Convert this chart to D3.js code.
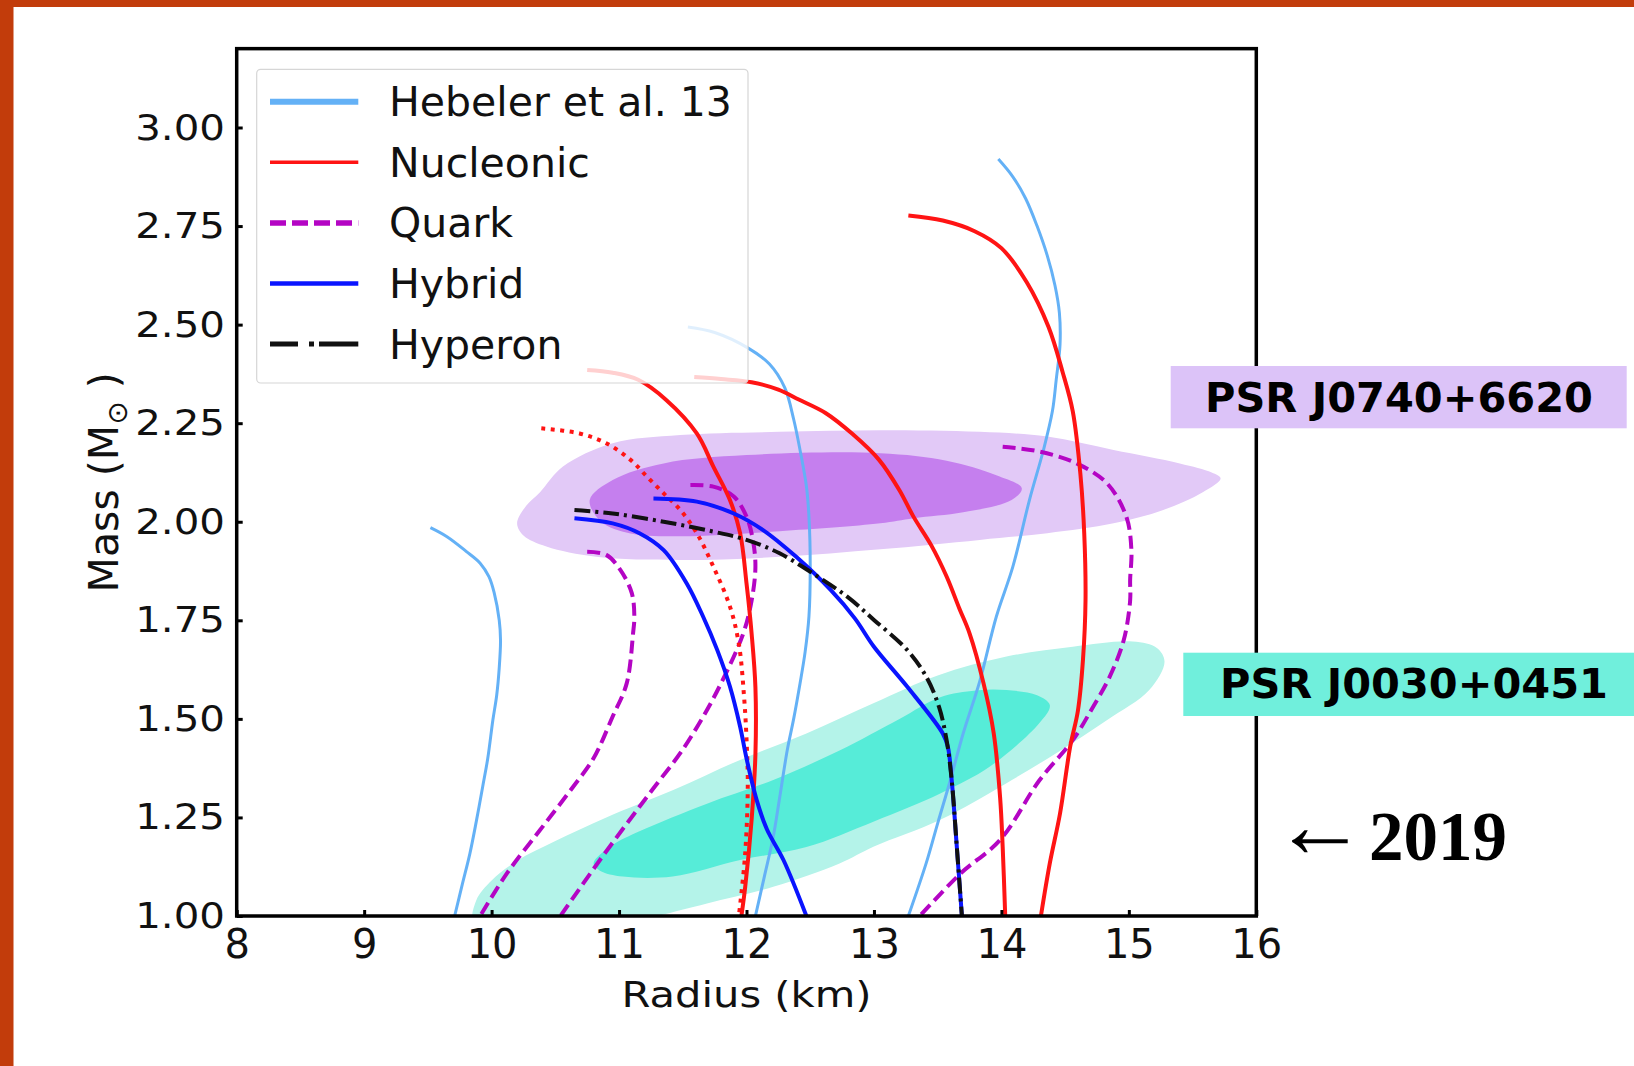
<!DOCTYPE html>
<html>
<head>
<meta charset="utf-8">
<script src="https://cdn.jsdelivr.net/npm/d3@7"></script>
<style>
  body { margin: 0; background: #fff; }
  svg { display: block; }
</style>
</head>
<body>
<svg id="chart" width="1634" height="1066"></svg>
<script>
// ---- Mass–radius relations, points are [radius (km), mass (M_sun)] ----
const hebelerSoft = [[9.52,1.985],[9.65,1.962],[9.80,1.925],[9.91,1.895],[9.98,1.86],[10.02,1.82],[10.06,1.75],[10.07,1.70],[10.06,1.63],[10.04,1.56],[10.01,1.497],[9.97,1.40],[9.93,1.328],[9.88,1.24],[9.83,1.159],[9.77,1.08],[9.71,1.0]];
const hebelerMid = [[11.54,2.494],[11.75,2.48],[12.01,2.441],[12.18,2.40],[12.30,2.34],[12.37,2.26],[12.42,2.182],[12.47,2.09],[12.49,2.013],[12.50,1.886],[12.49,1.76],[12.46,1.67],[12.42,1.59],[12.37,1.50],[12.32,1.421],[12.26,1.30],[12.21,1.201],[12.14,1.10],[12.07,1.0]];
const hebelerStiff = [[13.976,2.92],[14.09,2.875],[14.19,2.82],[14.28,2.75],[14.36,2.675],[14.42,2.60],[14.455,2.53],[14.46,2.45],[14.43,2.36],[14.40,2.28],[14.33,2.182],[14.22,2.055],[14.09,1.886],[13.96,1.759],[13.83,1.595],[13.70,1.463],[13.60,1.345],[13.5,1.235],[13.41,1.134],[13.27,1.0]];

const nucleonicA = [[10.75,2.385],[10.95,2.378],[11.15,2.36],[11.37,2.309],[11.61,2.224],[11.74,2.14],[11.87,2.055],[11.95,1.971],[12.0,1.844],[12.04,1.717],[12.07,1.58],[12.07,1.41],[12.04,1.244],[11.99,1.074],[11.96,1.0]];
const nucleonicDotted = [[10.39,2.237],[10.69,2.224],[10.90,2.199],[11.09,2.157],[11.22,2.114],[11.35,2.072],[11.48,2.03],[11.61,1.971],[11.74,1.886],[11.87,1.785],[11.94,1.69],[11.98,1.56],[12.0,1.45],[12.01,1.33],[11.99,1.16],[11.94,1.0]];
const nucleonicB = [[11.59,2.367],[11.8,2.362],[12.04,2.354],[12.25,2.335],[12.41,2.31],[12.62,2.276],[12.83,2.223],[13.04,2.157],[13.2,2.08],[13.31,2.013],[13.45,1.94],[13.57,1.861],[13.67,1.78],[13.75,1.717],[13.86,1.59],[13.94,1.463],[13.99,1.30],[14.01,1.176],[14.03,1.0]];
const nucleonicC = [[13.27,2.777],[13.54,2.764],[13.79,2.737],[14.0,2.694],[14.2,2.607],[14.37,2.494],[14.48,2.38],[14.56,2.28],[14.62,2.12],[14.65,1.97],[14.66,1.80],[14.64,1.65],[14.60,1.52],[14.54,1.43],[14.46,1.26],[14.38,1.134],[14.31,1.0]];

const quarkA = [[10.75,1.924],[10.90,1.916],[11.01,1.878],[11.10,1.819],[11.12,1.76],[11.11,1.717],[11.06,1.59],[10.95,1.506],[10.80,1.40],[10.64,1.328],[10.38,1.218],[10.12,1.108],[9.91,1.0]];
const quarkB = [[11.56,2.093],[11.74,2.089],[11.90,2.064],[12.0,2.013],[12.05,1.954],[12.07,1.886],[12.04,1.80],[11.975,1.717],[11.80,1.59],[11.65,1.50],[11.48,1.413],[11.32,1.345],[11.16,1.277],[10.85,1.142],[10.54,1.0]];
const quarkC = [[14.01,2.19],[14.30,2.178],[14.59,2.148],[14.83,2.097],[14.98,2.013],[15.02,1.928],[15.01,1.852],[15.01,1.80],[14.96,1.70],[14.85,1.607],[14.72,1.531],[14.56,1.446],[14.30,1.345],[13.99,1.193],[13.68,1.108],[13.36,1.0]];

const hybridA = [[10.65,2.009],[10.95,1.996],[11.16,1.971],[11.35,1.928],[11.53,1.844],[11.66,1.759],[11.77,1.675],[11.87,1.582],[11.95,1.48],[12.0,1.40],[12.08,1.294],[12.16,1.22],[12.29,1.142],[12.47,1.0]];
const hybridB = [[11.27,2.059],[11.61,2.051],[11.90,2.021],[12.13,1.979],[12.39,1.911],[12.66,1.827],[12.85,1.755],[13.0,1.683],[13.26,1.582],[13.54,1.463],[13.58,1.429],[13.61,1.345],[13.65,1.176],[13.69,1.0]];

const hyperon = [[10.65,2.03],[10.95,2.021],[11.35,2.0],[11.74,1.975],[12.0,1.954],[12.26,1.92],[12.52,1.869],[12.79,1.81],[13.0,1.751],[13.26,1.675],[13.41,1.607],[13.51,1.531],[13.57,1.446],[13.61,1.345],[13.65,1.176],[13.69,1.0]];

// ---- Credible regions (68% inner / 95% outer) ----
const j0740Outer = [[10.20,1.996],[10.27,2.04],[10.38,2.075],[10.56,2.14],[10.95,2.199],[11.48,2.22],[12.26,2.228],[13.05,2.232],[13.83,2.228],[14.36,2.216],[14.88,2.182],[15.40,2.148],[15.65,2.125],[15.72,2.110],[15.58,2.075],[15.27,2.03],[14.88,1.996],[14.36,1.971],[13.83,1.954],[13.05,1.93],[12.26,1.911],[11.48,1.903],[10.82,1.911],[10.43,1.937],[10.25,1.965]];
const j0740Inner = [[10.77,2.055],[10.95,2.106],[11.35,2.148],[12.0,2.169],[13.05,2.174],[13.57,2.155],[13.96,2.118],[14.16,2.085],[14.08,2.055],[13.70,2.024],[13.31,2.009],[13.05,1.996],[12.26,1.976],[11.48,1.963],[11.09,1.97],[10.86,2.0]];
const j0030Outer = [[9.86,0.98],[9.88,1.04],[10.0,1.09],[10.2,1.14],[10.5,1.19],[10.9,1.25],[11.43,1.32],[11.95,1.396],[12.47,1.463],[13.0,1.54],[13.5,1.61],[14.04,1.658],[14.56,1.683],[15.03,1.696],[15.22,1.68],[15.28,1.645],[15.16,1.573],[14.83,1.497],[14.43,1.413],[14.04,1.337],[13.52,1.244],[13.0,1.176],[12.73,1.133],[12.21,1.074],[11.69,1.032],[11.3,1.0],[10.8,0.96],[10.2,0.95]];
const j0030Inner = [[10.80,1.134],[10.95,1.18],[11.16,1.215],[11.69,1.285],[12.21,1.345],[12.73,1.42],[13.2,1.50],[13.52,1.555],[13.8,1.572],[14.04,1.573],[14.28,1.56],[14.38,1.535],[14.3,1.49],[13.91,1.379],[13.52,1.311],[13.0,1.24],[12.47,1.175],[11.95,1.142],[11.42,1.10],[11.03,1.10],[10.85,1.115]];

// ---- Axis ticks and labels ----
const radiusTicks = [8, 9, 10, 11, 12, 13, 14, 15, 16];
const massTicks = [1.00, 1.25, 1.50, 1.75, 2.00, 2.25, 2.50, 2.75, 3.00];
const legendLabels = ["Hebeler et al. 13", "Nucleonic", "Quark", "Hybrid", "Hyperon"];
const pulsarNames = ["PSR J0740+6620", "PSR J0030+0451"];
const yearNote = "2019";

// ---- Styling ----
const C = {
  hebeler: "#64b1f6",
  nucleonic: "#ff1414",
  quark: "#b405c4",
  hybrid: "#0a14ff",
  hyperon: "#111111",
  purpleOuter: "#e2c9f7",
  purpleInner: "#c57fee",
  tealOuter: "#b4f3e9",
  tealInner: "#56ecd8",
  purpleBox: "#dcc3f8",
  tealBox: "#70efdc",
  border: "#c23c0b"
};

const svg = d3.select("#chart");
svg.append("rect").attr("width", 1634).attr("height", 1066).attr("fill", "#fff");
// page edge band
svg.append("rect").attr("x", 0).attr("y", 0).attr("width", 13.5).attr("height", 1066).attr("fill", C.border);
svg.append("rect").attr("x", 0).attr("y", 0).attr("width", 1634).attr("height", 7).attr("fill", C.border);

const x = d3.scaleLinear().domain([8, 16]).range([236.7, 1256.3]);
const y = d3.scaleLinear().domain([1, 3.2]).range([916, 48.65]);
const [x0, x1] = x.range();
const [yb, yt] = y.range();

svg.append("defs").append("clipPath").attr("id", "plotClip")
  .append("rect").attr("x", x0).attr("y", yt).attr("width", x1 - x0).attr("height", yb - yt);

const plot = svg.append("g").attr("clip-path", "url(#plotClip)");

// credible regions
const area = d3.line().x(d => x(d[0])).y(d => y(d[1])).curve(d3.curveCatmullRomClosed.alpha(0.5));
[[j0740Outer, C.purpleOuter], [j0740Inner, C.purpleInner], [j0030Outer, C.tealOuter], [j0030Inner, C.tealInner]]
  .forEach(([pts, fill]) => plot.append("path").attr("d", area(pts)).attr("fill", fill));

// curves
const line = d3.line().x(d => x(d[0])).y(d => y(d[1])).curve(d3.curveCatmullRom.alpha(0.5));
const curves = [
  { pts: hebelerSoft, color: C.hebeler, w: 3 },
  { pts: hebelerMid, color: C.hebeler, w: 3 },
  { pts: hebelerStiff, color: C.hebeler, w: 3 },
  { pts: quarkA, color: C.quark, w: 4, dash: "13,6" },
  { pts: quarkB, color: C.quark, w: 4, dash: "13,6" },
  { pts: quarkC, color: C.quark, w: 4, dash: "13,6" },
  { pts: nucleonicDotted, color: C.nucleonic, w: 4, dash: "4,5.5" },
  { pts: nucleonicA, color: C.nucleonic, w: 4 },
  { pts: nucleonicB, color: C.nucleonic, w: 4 },
  { pts: nucleonicC, color: C.nucleonic, w: 4 },
  { pts: hybridA, color: C.hybrid, w: 4 },
  { pts: hybridB, color: C.hybrid, w: 4 },
  { pts: hyperon, color: C.hyperon, w: 4, dash: "16,5,3,5" }
];
curves.forEach(c => {
  plot.append("path").attr("d", line(c.pts)).attr("fill", "none")
    .attr("stroke", c.color).attr("stroke-width", c.w)
    .attr("stroke-dasharray", c.dash || null);
});

// axes (ticks point inward)
const yAxis = d3.axisLeft(y).tickValues(massTicks).tickFormat(d3.format(".2f"))
  .tickSizeInner(-6).tickSizeOuter(0).tickPadding(10.5);
const gy = svg.append("g").attr("transform", `translate(${x0},0)`).call(yAxis);
gy.select(".domain").remove();
gy.selectAll(".tick line").attr("stroke", "#000").attr("stroke-width", 3);
gy.selectAll(".tick text").attr("font-family", "DejaVu Sans").attr("font-size", 36)
  .attr("fill", "#111").attr("transform", "scale(1.12,1)");

const xAxis = d3.axisBottom(x).tickValues(radiusTicks).tickFormat(d3.format("d"))
  .tickSizeInner(-6).tickSizeOuter(0).tickPadding(14);
const gx = svg.append("g").attr("transform", `translate(0,${yb})`).call(xAxis);
gx.select(".domain").remove();
gx.selectAll(".tick line").attr("stroke", "#000").attr("stroke-width", 3);
gx.selectAll(".tick text").attr("font-family", "DejaVu Sans").attr("font-size", 40).attr("fill", "#111");

// frame
svg.append("rect").attr("x", x0).attr("y", yt).attr("width", x1 - x0).attr("height", yb - yt)
  .attr("fill", "none").attr("stroke", "#000").attr("stroke-width", 3.5);

// axis titles
svg.append("text").attr("transform", `translate(${(x0 + x1) / 2},1006.7) scale(1.19,1)`)
  .attr("text-anchor", "middle").attr("font-family", "DejaVu Sans").attr("font-size", 35)
  .attr("fill", "#111").text("Radius (km)");

const mt = svg.append("text").attr("transform", `translate(118,${(yt + yb) / 2}) rotate(-90)`)
  .attr("text-anchor", "middle").attr("font-family", "DejaVu Sans").attr("font-size", 41).attr("fill", "#111");
mt.append("tspan").text("Mass (M");
mt.append("tspan").attr("font-size", 28).attr("dy", 9).text("\u2299");
mt.append("tspan").attr("dy", -9).text(" )");

// legend (semi-opaque box over the curves)
const lg = { x: 256.7, y: 69.3, w: 491.3, h: 313.7, row0: 101.7, step: 60.6 };
svg.append("rect").attr("x", lg.x).attr("y", lg.y).attr("width", lg.w).attr("height", lg.h)
  .attr("rx", 4).attr("fill", "#fff").attr("fill-opacity", 0.8)
  .attr("stroke", "#d6d6d6").attr("stroke-width", 1.2);
const legendStyles = [
  { color: C.hebeler, w: 6 },
  { color: C.nucleonic, w: 3.5 },
  { color: C.quark, w: 5.5, dash: "16,6" },
  { color: C.hybrid, w: 4.5 },
  { color: C.hyperon, w: 5, dash: "28,11,5,5,40" }
];
legendLabels.forEach((lab, i) => {
  const yy = lg.row0 + i * lg.step;
  const s = legendStyles[i];
  svg.append("line").attr("x1", 270).attr("x2", 358.3).attr("y1", yy).attr("y2", yy)
    .attr("stroke", s.color).attr("stroke-width", s.w).attr("stroke-dasharray", s.dash || null);
  svg.append("text").attr("x", 389).attr("y", yy + 14.5)
    .attr("font-family", "DejaVu Sans").attr("font-size", 41).attr("fill", "#111").text(lab);
});

// pulsar tags
const tags = [
  { name: pulsarNames[0], bx: 1170.7, by: 366, bw: 456, bh: 62.3, fill: C.purpleBox, tx: 1205, ty: 411.7 },
  { name: pulsarNames[1], bx: 1183.3, by: 652.7, bw: 460, bh: 63.3, fill: C.tealBox, tx: 1220, ty: 698.3 }
];
tags.forEach(t => {
  svg.append("rect").attr("x", t.bx).attr("y", t.by).attr("width", t.bw).attr("height", t.bh).attr("fill", t.fill);
  svg.append("text").attr("x", t.tx).attr("y", t.ty).attr("font-family", "DejaVu Sans")
    .attr("font-weight", "bold").attr("font-size", 41.5).attr("fill", "#000").text(t.name);
});

// year annotation
svg.append("text").attr("x", 1273).attr("y", 857).attr("font-family", "Liberation Serif")
  .attr("font-size", 94).attr("fill", "#000").text("\u2190");
svg.append("text").attr("x", 1369).attr("y", 859.5).attr("font-family", "Liberation Serif")
  .attr("font-weight", "bold").attr("font-size", 69).attr("fill", "#000").text(yearNote);
</script>
</body>
</html>
